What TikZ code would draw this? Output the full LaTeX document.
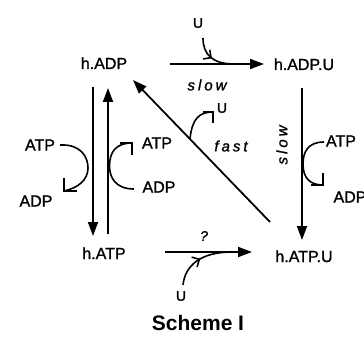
\documentclass[tikz,border=0pt]{standalone}
\usepackage{fontspec}
\setmainfont{Liberation Sans}
\newfontfamily\heavy{Liberation Sans}[FakeBold=1.3]
\usetikzlibrary{arrows.meta,decorations.markings}
\newcommand{\gp}{\hspace{3pt}}
\begin{document}
\begin{tikzpicture}[x=1pt,y=1pt,
  lbl/.style={inner sep=0pt, anchor=base, font=\heavy\fontsize{16}{18}\selectfont},
  sm/.style={inner sep=0pt, font=\heavy\fontsize{16}{18}\selectfont},
  tiny/.style={inner sep=0pt, font=\heavy\fontsize{14}{16}\selectfont},
  rate/.style={inner sep=0pt, font=\heavy\fontsize{15}{17}\selectfont\itshape},
  arr/.style={line width=1.8pt, -{Triangle[length=14pt,width=10pt]}},
  ln/.style={line width=1.8pt},
  crv/.style={line width=1.6pt},
  barb/.style={line width=1.6pt, line join=miter},
  midbarb/.style={crv, postaction={decorate},
    decoration={markings, mark=at position #1 with {\arrow{Straight Barb[angle=90:8pt]}}}}
]
\useasboundingbox (0,0) rectangle (364,338);

% species
\node[lbl] (hADP)  at (104,269) {h.ADP};
\node[lbl] (hADPU) at (304,268) {h.ADP.U};
\node[lbl] (hATP)  at (104,79)  {h.ATP};
\node[lbl] (hATPU) at (304,76)  {h.ATP.U};
\node[inner sep=0pt, anchor=base, font=\fontsize{21}{24}\selectfont\bfseries] (scheme) at (198,8) {Scheme I};

% small labels
\node[sm] (atpL) at (40,193) {ATP};
\node[sm] (adpL) at (36,137) {ADP};
\node[sm] (atpM) at (157,195) {ATP};
\node[sm] (adpM) at (159,151) {ADP};
\node[sm] (atpR) at (341,197) {ATP};
\node[sm] (adpR) at (350,141) {ADP};
\node[tiny] (uTop) at (198,315) {U};
\node[tiny] (uBot) at (181,42) {U};
\node[tiny] (uDia) at (222,230) {U};
\node[tiny] (q) at (204,102) {\itshape ?};
\node[rate] (slowT) at (207,253) {s\gp l\gp o\gp w};
\node[rate] (fast) at (231,192) {f\gp a\gp s\gp t};
\node[rate, rotate=90] (slowR) at (282,193) {s\gp l\gp o\gp w};

% main arrows
\draw[arr] ([shift={(66,5)}]hADP.base) -- ([shift={(-40,6)}]hADPU.base);
\draw[arr] ([shift={(61,7)}]hATP.base) -- ([shift={(-52,10)}]hATPU.base);
\draw[arr] ([shift={(-11,-18)}]hADP.base) -- ([shift={(-11,23)}]hATP.base);
\draw[arr] ([shift={(4,25)}]hATP.base) -- ([shift={(4,-19)}]hADP.base);
\draw[arr] ([shift={(-2,-18)}]hADPU.base) -- ([shift={(-2,22)}]hATPU.base);
\draw[arr] ([shift={(-34,40)}]hATPU.base) -- ([shift={(29,-11)}]hADP.base);

% U joining top reaction
\draw[midbarb=0.5] (203,300) .. controls (203,284) and (212,274) .. (234,274);
% U joining bottom reaction
\draw[midbarb=0.5] (183,53) .. controls (185,72) and (200,86) .. (232,86);
% U leaving diagonal
\draw[crv] (190,199) .. controls (192,219) and (199,226) .. (213,226);
\draw[barb] (203,226) -- (213,226) -- (213,215);

% left ATP -> ADP
\draw[crv] (60,193) .. controls (80,194) and (88,182) .. (88,170) .. controls (88,158) and (78,150) .. (64,147);
\draw[barb] (64,160) -- (64,147) -- (77,147);
% middle ADP -> ATP
\draw[crv] (134,149) .. controls (116,149) and (109.5,160) .. (109.5,172) .. controls (109.5,186) and (116,195) .. (132,195);
\draw[barb] (120,195) -- (132,195) -- (132,183);
% right ATP -> ADP
\draw[crv] (324,196) .. controls (308,196) and (303,186) .. (303,174) .. controls (303,160) and (310,153) .. (323,153);
\draw[barb] (323,165) -- (323,153) -- (311,153);
\end{tikzpicture}
\end{document}
